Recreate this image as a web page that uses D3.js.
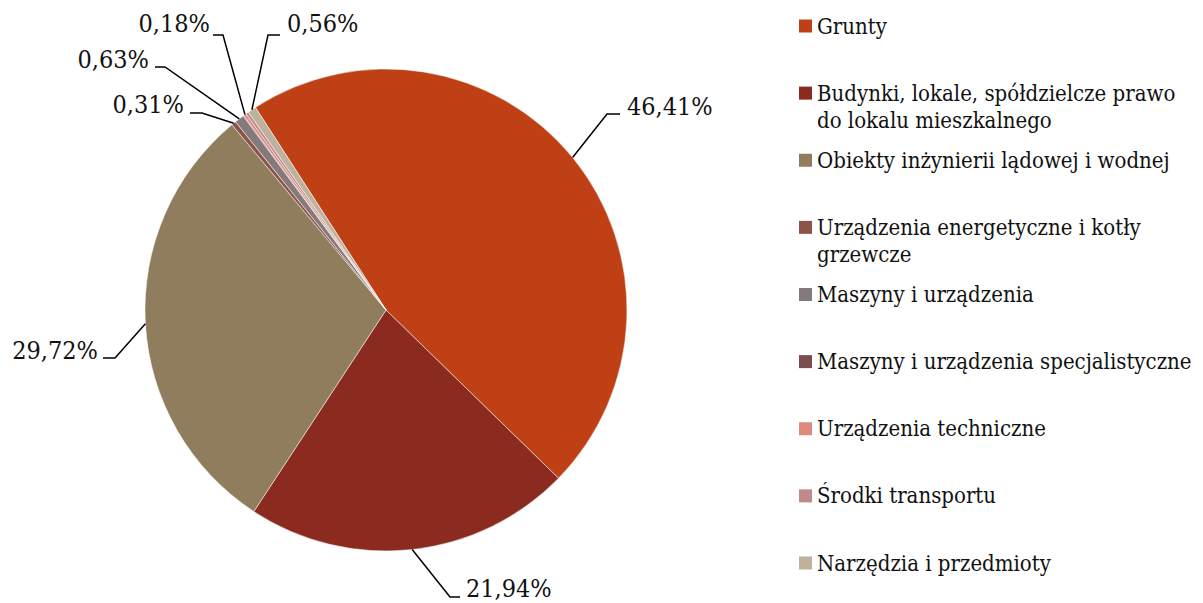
<!DOCTYPE html>
<html lang="pl">
<head>
<meta charset="UTF-8">
<title>Struktura środków trwałych</title>
<script src="https://cdn.jsdelivr.net/npm/d3@7"></script>
<style>
  body { margin: 0; background: #fff; }
  svg { display: block; }
  text { font-family: "DejaVu Serif Condensed", "DejaVu Serif", serif; fill: #111; }
</style>
</head>
<body>
<div id="chart"></div>
<script>
// data
const categories = [
  "Grunty",
  "Budynki, lokale, spółdzielcze prawo do lokalu mieszkalnego",
  "Obiekty inżynierii lądowej i wodnej",
  "Urządzenia energetyczne i kotły grzewcze",
  "Maszyny i urządzenia",
  "Maszyny i urządzenia specjalistyczne",
  "Urządzenia techniczne",
  "Środki transportu",
  "Narzędzia i przedmioty"
];
const shares = [46.41, 21.94, 29.72, 0.31, 0.63, 0.06, 0.18, 0.19, 0.56];
const showLabel = [true, true, true, true, true, false, true, false, true];
const colors = ["#BE4014", "#8B2A1E", "#8F7D5D", "#8C5448", "#857A7B", "#7B4D4F", "#E0897E", "#C08A89", "#BFB19E"];

const width = 1203, height = 603;
const cx = 386, cy = 310, r = 241;

const svg = d3.select("#chart").append("svg")
  .attr("width", width).attr("height", height);

const rows = categories.map((c, i) => ({ name: c, value: shares[i], color: colors[i], label: showLabel[i] }));

// first slice rotated like in the original (Excel "angle of first slice")
const rot = -32.8 * Math.PI / 180;
const pie = d3.pie().value(d => d.value).sort(null)
  .startAngle(rot).endAngle(rot + 2 * Math.PI);
const arcs = pie(rows);
const arc = d3.arc().innerRadius(0).outerRadius(r);

const g = svg.append("g").attr("transform", `translate(${cx},${cy})`);
g.selectAll("path").data(arcs).enter().append("path")
  .attr("d", arc)
  .attr("fill", d => d.data.color)
  .attr("stroke", "#fff")
  .attr("stroke-width", 0.5);

// label placement (manual, as in the original) - elbow point, text position, anchor
const labelPlace = {
  0: { elbow: [607, 114], tail: 13, tx: 627, ty: 115, anchor: "start" },
  1: { elbow: [450, 597], tail: 10, tx: 466, ty: 597, anchor: "start" },
  2: { elbow: [115, 358], tail: -12, tx: 98, ty: 359, anchor: "end" },
  3: { elbow: [202, 113], tail: -12, tx: 184, ty: 113, anchor: "end" },
  4: { elbow: [165, 67], tail: -10, tx: 149, ty: 68, anchor: "end" },
  6: { elbow: [223, 35], tail: -10, tx: 210, ty: 32, anchor: "end" },
  8: { elbow: [268, 35], tail: 12, tx: 287, ty: 32, anchor: "start" }
};

const fmt = v => d3.format(".2f")(v).replace(".", ",") + "%";
const lab = svg.append("g");
arcs.forEach((d, i) => {
  if (!d.data.label) return;
  const p = labelPlace[i];
  const a = (d.startAngle + d.endAngle) / 2;
  const x0 = cx + r * Math.sin(a), y0 = cy - r * Math.cos(a);
  lab.append("polyline")
    .attr("points", [[x0, y0], p.elbow, [p.elbow[0] + p.tail, p.elbow[1]]].map(q => q.join(",")).join(" "))
    .attr("fill", "none").attr("stroke", "#000").attr("stroke-width", 1.5);
  lab.append("text")
    .attr("x", p.tx).attr("y", p.ty)
    .attr("text-anchor", p.anchor)
    .attr("font-size", 25)
    .text(fmt(d.data.value));
});

// legend
const ly = d3.scalePoint().domain(categories).range([26, 563]);
const lx = 799;
const leg = svg.append("g");
const maxW = 385;
rows.forEach(d => {
  const y = ly(d.name);
  leg.append("rect").attr("x", lx).attr("y", y - 6.5).attr("width", 13).attr("height", 13).attr("fill", d.color);
  const t = leg.append("text").attr("x", lx + 18).attr("y", y + 7.5).attr("font-size", 22);
  // simple word wrap
  const words = d.name.split(" ");
  let line = [];
  let ts = t.append("tspan").attr("x", lx + 18).attr("dy", 0);
  words.forEach(w => {
    line.push(w);
    ts.text(line.join(" "));
    if (ts.node().getComputedTextLength() > maxW && line.length > 1) {
      line.pop();
      ts.text(line.join(" "));
      line = [w];
      ts = t.append("tspan").attr("x", lx + 18).attr("dy", 27).text(w);
    }
  });
});
</script>
</body>
</html>
